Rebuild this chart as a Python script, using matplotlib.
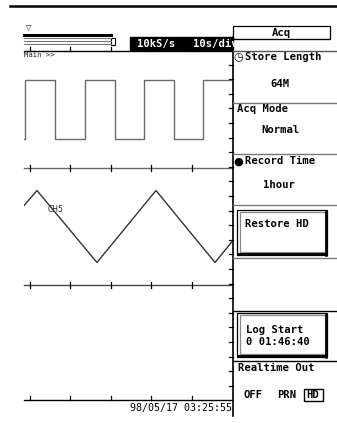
import numpy as np
import matplotlib.pyplot as plt
from matplotlib.patches import Rectangle

# waveform data (time in s, 10 s/div)
sq_edges = [0.25, 7.65, 15.06, 22.47, 29.63, 37.04, 44.20]
sq_start_level = 0
tri_t = [0.0, 3.21, 18.02, 32.59, 47.16, 51.36]
tri_v = [0.58, 1.0, -1.0, 1.0, -1.0, -0.42]
t_end = 51.36
div_ticks = [1.48, 11.48, 21.48, 31.48, 41.48]

# menu texts
sample_rate = "10kS/s"
time_div = "10s/div"
store_len = "64M"
acq_mode = "Normal"
rec_time = "1hour"
log_start = "0 01:46:40"
stamp = "98/05/17 03:25:55"

W, H = 337, 423
fig = plt.figure(figsize=(W / 100, H / 100), dpi=100)
fig.patch.set_facecolor('white')
ax = fig.add_axes([0, 0, 1, 1])
ax.set_xlim(0, W)
ax.set_ylim(H, 0)
ax.axis('off')

mono = 'DejaVu Sans Mono'
fs = 7.6

def px_axes(x0, y0, x1, y1):
    a = fig.add_axes([x0 / W, 1 - y1 / H, (x1 - x0) / W, (y1 - y0) / H])
    a.axis('off')
    a.patch.set_alpha(0)
    return a

# top rule
ax.plot([10, 337], [6, 6], color='black', lw=1.8)

# scroll bar
ax.text(26, 28, "▽", fontsize=5, family='DejaVu Sans', ha='left', va='center')
ax.plot([24, 111], [35, 35], color='black', lw=2.2)
for yy in (38.5, 41.3, 44.2):
    ax.plot([24, 111], [yy, yy], color='#777777', lw=0.8)
ax.add_patch(Rectangle((111, 38), 3.5, 7, fill=False, ec='black', lw=0.8))

# header band
ax.add_patch(Rectangle((130, 37), 103, 13.5, color='black'))
ax.text(137, 43.5, sample_rate, color='white', fontsize=fs, family=mono,
        weight='bold', va='center')
t = ax.text(193, 43.5, time_div, color='white', fontsize=fs, family=mono,
            weight='bold', va='center')
t.set_clip_path(Rectangle((130, 37), 103, 13.5, transform=ax.transData))

# plot frame lines
ax.plot([24, 233], [51, 51], color='black', lw=1)
ax.plot([24, 232], [168, 168], color='#666666', lw=1)
ax.plot([24, 232], [285, 285], color='#444444', lw=1)
ax.plot([24, 232], [400, 400], color='black', lw=1)
ax.plot([232.5, 232.5], [37, 416], color='black', lw=1.2)
ax.text(24, 55, "Main >>", fontsize=5.2, family=mono, va='center', color='#222222')

tick_px = [24 + d * 4.05 for d in div_ticks]
for x in tick_px:
    ax.plot([x, x], [47.5, 51], color='black', lw=0.9)
    ax.plot([x, x], [165, 171], color='black', lw=0.9)
    ax.plot([x, x], [282, 288], color='black', lw=0.9)
    ax.plot([x, x], [396.5, 400], color='black', lw=0.9)
for k in range(1, 24):
    y = 50 + 14.6 * k
    ax.plot([228.5, 232.5], [y, y], color='black', lw=0.9)

# channel 1 (square)
a1 = px_axes(24, 51, 232, 168)
a1.set_xlim(0, t_end)
a1.set_ylim(-0.5, 1.5)
xs = [0.0]
ys = [sq_start_level]
lvl = sq_start_level
for e in sq_edges:
    xs += [e, e]
    ys += [lvl, 1 - lvl]
    lvl = 1 - lvl
xs.append(t_end)
ys.append(lvl)
a1.plot(xs, ys, color='#6a6a6a', lw=1)

# channel 2 (triangle)
a2 = px_axes(24, 168, 232, 285)
a2.set_xlim(0, t_end)
a2.set_ylim(-1.625, 1.625)
a2.plot(tri_t, tri_v, color='#333333', lw=1)
ax.text(48, 210, "CH5", fontsize=5.5, family='DejaVu Sans', va='center', color='#222222')

ax.text(232, 407.5, stamp, fontsize=7.2, family=mono, ha='right', va='center')

# right panel
ax.add_patch(Rectangle((233, 26.5), 97, 12.5, fill=False, ec='black', lw=0.9))
ax.text(281, 33, "Acq", fontsize=fs, family=mono, ha='center', va='center', weight='bold')
ax.plot([233, 330], [39, 39], color='black', lw=0.8)
for y, c in [(51, '#555555'), (103, '#777777'), (154, '#777777'),
             (205, '#777777'), (258, '#777777'), (311, 'black'), (361, 'black')]:
    ax.plot([233, 337], [y, y], color=c, lw=1)

ax.text(233, 57.5, "◷", fontsize=8, family='DejaVu Sans', va='center')
ax.text(245, 57.5, "Store Length", fontsize=fs, family=mono, va='center', weight='bold')
ax.text(280, 84, store_len, fontsize=fs, family=mono, ha='center', va='center', weight='bold')
ax.text(237, 109, "Acq Mode", fontsize=fs, family=mono, va='center', weight='bold')
ax.text(280, 130, acq_mode, fontsize=fs, family=mono, ha='center', va='center', weight='bold')
ax.text(233, 161.5, "●", fontsize=8, family='DejaVu Sans', va='center')
ax.text(245, 161.5, "Record Time", fontsize=fs, family=mono, va='center', weight='bold')
ax.text(279, 185, rec_time, fontsize=fs, family=mono, ha='center', va='center', weight='bold')


def button(y0, y1):
    ax.add_patch(Rectangle((237, y0), 90, y1 - y0, fill=False, ec='black', lw=0.9))
    ax.add_patch(Rectangle((239.5, y0 + 2.5), 85, y1 - y0 - 5, fill=False,
                           ec='#888888', lw=0.9))
    ax.plot([326, 326], [y0 + 1, y1], color='black', lw=1.8)
    ax.plot([238, 327], [y1 - 0.8, y1 - 0.8], color='black', lw=1.4)


button(210, 255)
ax.text(245, 224, "Restore HD", fontsize=fs, family=mono, va='center', weight='bold')
button(313, 357)
ax.text(246, 330, "Log Start", fontsize=fs, family=mono, va='center', weight='bold')
ax.text(246, 342, log_start, fontsize=fs, family=mono, va='center', weight='bold')

ax.text(238, 368, "Realtime Out", fontsize=fs, family=mono, va='center', weight='bold')
ax.text(243, 395, "OFF", fontsize=fs, family=mono, va='center', weight='bold')
ax.text(277, 395, "PRN", fontsize=fs, family=mono, va='center', weight='bold')
ax.text(306, 395, "HD", fontsize=fs, family=mono, va='center', weight='bold')
ax.add_patch(Rectangle((304, 389), 19, 12, fill=False, ec='black', lw=1))

fig.savefig('out.png', dpi=100)
